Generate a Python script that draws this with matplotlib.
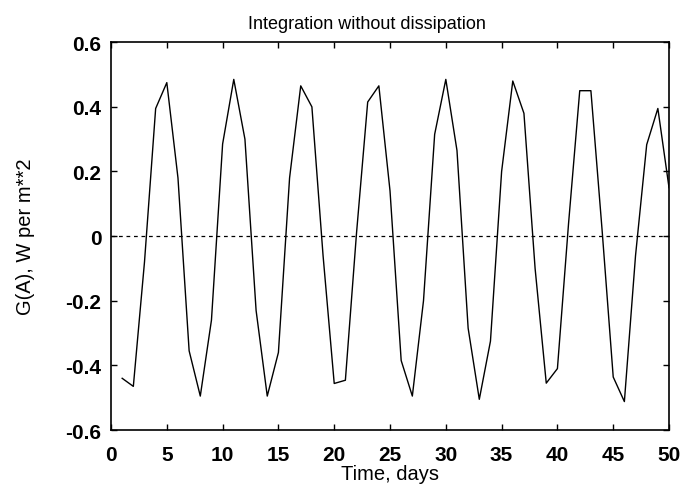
import matplotlib
matplotlib.use('Agg')
import matplotlib.pyplot as plt
import numpy as np

plt.rcParams['font.family'] = ['Liberation Sans', 'DejaVu Sans']

# daily values
days = list(range(1, 51))
g_a = [-0.44, -0.465, -0.08, 0.395, 0.475, 0.18, -0.355, -0.495, -0.26, 0.285,
       0.485, 0.30, -0.23, -0.495, -0.36, 0.18, 0.465, 0.40, -0.06, -0.456,
       -0.446, 0.01, 0.415, 0.465, 0.14, -0.385, -0.495, -0.20, 0.315, 0.485,
       0.265, -0.285, -0.505, -0.325, 0.20, 0.48, 0.38, -0.10, -0.455, -0.41,
       0.04, 0.45, 0.45, 0.02, -0.436, -0.512, -0.06, 0.283, 0.395, 0.15]

x_ticks = [0, 5, 10, 15, 20, 25, 30, 35, 40, 45, 50]
y_ticks = [-0.6, -0.4, -0.2, 0, 0.2, 0.4, 0.6]

fig = plt.figure(figsize=(6.84, 4.89), dpi=100)
ax = fig.add_axes([0.1623, 0.1186, 0.8158, 0.793])

ax.plot(days, g_a, color='black', linewidth=1.0)
ax.axhline(0, color='black', linewidth=0.9, linestyle=(0, (3, 3)))

ax.set_xlim(0, 50)
ax.set_ylim(-0.6, 0.6)
ax.set_xticks(x_ticks)
ax.set_yticks(y_ticks)
ax.set_xticklabels([str(t) for t in x_ticks])
ax.set_yticklabels(['-0.6', '-0.4', '-0.2', '0', '0.2', '0.4', '0.6'])

ax.tick_params(direction='in', length=4, width=1, top=True, right=True,
               labelsize=15)
ax.tick_params(axis='x', pad=11)
ax.tick_params(axis='y', pad=7)
for lab in ax.get_xticklabels() + ax.get_yticklabels():
    lab.set_fontweight('bold')
for sp in ax.spines.values():
    sp.set_linewidth(1.2)

ax.set_title('Integration without dissipation', fontsize=13, x=0.459, pad=10)
ax.set_xlabel('Time, days', fontsize=14.5, labelpad=0)
ax.set_ylabel('G(A), W per m**2', fontsize=14.5, labelpad=22)

fig.savefig('out.png', dpi=100)
